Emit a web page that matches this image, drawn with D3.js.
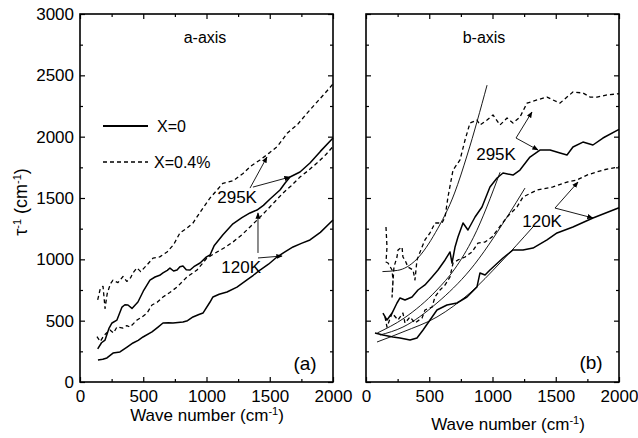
<!DOCTYPE html>
<html>
<head>
<meta charset="utf-8">
<script src="https://cdn.jsdelivr.net/npm/d3@7"></script>
<style>
body { margin: 0; background: #fff; }
text { font-family: Arial, "Liberation Sans", Helvetica, sans-serif; fill: #000; }
</style>
</head>
<body>
<div class="chart"></div>
<script>
// a-axis panel, [wave number, 1/tau]
const a295_x04 = [[140,670],[160,760],[182,780],[198,600],[215,720],[240,800],[261,830],[300,810],[340,860],[370,820],[400,850],[419,890],[450,930],[480,900],[530,955],[577,1010],[630,1020],[688,1060],[740,1120],[790,1215],[840,1250],[893,1296],[960,1400],[1028,1500],[1130,1620],[1210,1640],[1289,1700],[1350,1760],[1423,1810],[1500,1870],[1560,1920],[1640,2030],[1720,2100],[1794,2190],[1880,2290],[1950,2370],[2000,2430]]
const a295_x0 = [[140,270],[170,320],[198,342],[230,440],[253,481],[292,505],[332,611],[355,630],[379,628],[411,600],[458,652],[500,740],[553,831],[593,856],[630,870],[656,889],[690,910],[711,929],[740,905],[767,913],[790,940],[814,946],[840,915],[870,913],[900,940],[949,970],[1000,1020],[1028,1035],[1060,1110],[1130,1200],[1209,1290],[1280,1340],[1344,1378],[1399,1402],[1450,1440],[1500,1490],[1581,1565],[1620,1620],[1660,1671],[1739,1712],[1818,1785],[1900,1880],[2000,1990]]
const a120_x04 = [[134,370],[160,330],[190,380],[237,424],[265,400],[292,448],[340,440],[370,460],[395,448],[451,505],[490,530],[530,562],[569,628],[610,650],[656,693],[710,730],[767,774],[846,856],[925,913],[1004,1011],[1083,1060],[1150,1100],[1209,1141],[1280,1200],[1344,1264],[1410,1330],[1478,1402],[1540,1470],[1605,1541],[1670,1600],[1739,1671],[1800,1720],[1873,1785],[1940,1850],[2000,1920]]
const a120_x0 = [[142,179],[180,185],[213,196],[261,236],[316,245],[372,285],[419,318],[460,340],[498,367],[569,408],[617,448],[656,481],[700,483],[735,481],[814,489],[850,500],[893,530],[940,550],[972,562],[1028,652],[1051,693],[1100,715],[1162,734],[1241,774],[1320,832],[1370,870],[1423,913],[1490,960],[1557,1019],[1620,1060],[1684,1101],[1750,1130],[1818,1158],[1900,1220],[2000,1320]]

// b-axis panel
const b295_x04 = [[158,1264],[166,1100],[158,978],[174,970],[206,913],[213,832],[206,693],[221,937],[245,1019],[253,1076],[285,1100],[292,1019],[308,995],[332,937],[372,913],[387,832],[403,995],[443,1100],[466,1158],[506,1215],[545,1296],[601,1296],[625,1345],[648,1508],[688,1728],[743,1810],[783,1973],[822,2111],[877,2136],[901,2095],[957,2136],[1004,2177],[1059,2095],[1115,2152],[1162,2111],[1217,2160],[1273,2274],[1352,2299],[1431,2323],[1478,2299],[1534,2274],[1589,2323],[1636,2364],[1715,2356],[1771,2323],[1826,2323],[1905,2340],[2000,2350]]
const b295_x0 = [[134,562],[166,505],[206,562],[245,644],[269,685],[308,668],[364,693],[411,750],[466,791],[522,856],[569,913],[625,995],[664,1060],[680,970],[704,1101],[727,1182],[767,1296],[806,1239],[862,1345],[917,1427],[980,1590],[1036,1663],[1083,1704],[1162,1687],[1217,1728],[1296,1834],[1375,1891],[1455,1891],[1534,1867],[1589,1851],[1636,1916],[1715,1956],[1794,1932],[1873,1989],[2000,2060]]
const b120_x04 = [[150,530],[166,448],[206,562],[253,505],[292,562],[308,481],[348,530],[387,481],[443,522],[466,587],[522,611],[545,693],[585,750],[625,791],[664,856],[688,970],[727,995],[783,1019],[838,1060],[885,1133],[941,1141],[996,1182],[1115,1345],[1194,1427],[1241,1508],[1352,1565],[1478,1590],[1589,1630],[1668,1647],[1747,1687],[1873,1728],[2000,1755]]
const b120_x0 = [[71,399],[134,383],[213,367],[269,359],[348,342],[403,359],[451,424],[506,505],[561,587],[640,628],[719,644],[798,693],[877,774],[901,889],[941,872],[980,913],[1083,1011],[1162,1076],[1241,1076],[1320,1092],[1431,1158],[1510,1215],[1636,1264],[1794,1337],[2000,1420]]

// fitted curves (thin lines) in b panel
const b295_x04fit = [[130,900],[250,910],[400,1000],[550,1220],[700,1540],[800,1850],[957,2420]]
const b295_x0fit = [[90,400],[300,520],[560,750],[700,920],[850,1180],[1060,1710]]
const b120_x04fit = [[110,383],[292,448],[561,644],[822,913],[1115,1345],[1257,1581]]
const b120_x0fit = [[87,326],[292,408],[561,530],[822,726],[1059,970],[1320,1264]]

const xTicks = [0, 500, 1000, 1500, 2000]
const yTicks = [0, 500, 1000, 1500, 2000, 2500, 3000]

// temperature labels and their arrows [from, to]
const aNotes = [
  {text: '295K', x: 1085, y: 1459, arrows: [[[1344,1581],[1478,1834]], [[1367,1589],[1660,1671]]]},
  {text: '120K', x: 1117, y: 889, arrows: [[[1407,1052],[1407,1378]], [[1407,1011],[1597,1027]]]}
]
const bNotes = [
  {text: '295K', x: 871, y: 1810, arrows: [[[1186,1989],[1312,2201]], [[1186,1989],[1360,1891]]]},
  {text: '120K', x: 1235, y: 1264, arrows: [[[1494,1418],[1676,1630]], [[1494,1418],[1794,1337]]]}
]

let width = 638
let height = 438

let svg = d3.select('.chart').append('svg')
.attr('width', width)
.attr('height', height)

svg.append('defs').append('marker')
.attr('id', 'head')
.attr('viewBox', '0 0 10 10')
.attr('refX', 9)
.attr('refY', 5)
.attr('markerWidth', 7)
.attr('markerHeight', 7)
.attr('orient', 'auto')
.append('path')
.attr('d', 'M0,1 L10,5 L0,9 z')
.attr('fill', '#000')

let y = d3.scaleLinear().domain([0, 3000]).range([382, 14])
let xA = d3.scaleLinear().domain([0, 2000]).range([80, 333])
let xB = d3.scaleLinear().domain([0, 2000]).range([366, 619])

const minor = v => d3.range(v[0] + 250, v[v.length - 1], 500)

const drawPanel = (x, yLabels) => {
  let g = svg.append('g')
  let [x0, x1] = x.range()
  let [y0, y1] = y.range()

  // inward ticks on all four sides
  g.append('g').attr('transform', `translate(0,${y0})`)
  .call(d3.axisBottom(x).tickValues(xTicks).tickSize(-5).tickPadding(8).tickFormat(d3.format('d')))
  g.append('g').attr('transform', `translate(0,${y0})`)
  .call(d3.axisBottom(x).tickValues(minor(xTicks)).tickSize(-3).tickFormat(''))
  g.append('g').attr('transform', `translate(0,${y1})`)
  .call(d3.axisTop(x).tickValues(xTicks).tickSize(-5).tickFormat(''))
  g.append('g').attr('transform', `translate(0,${y1})`)
  .call(d3.axisTop(x).tickValues(minor(xTicks)).tickSize(-3).tickFormat(''))
  g.append('g').attr('transform', `translate(${x0},0)`)
  .call(d3.axisLeft(y).tickValues(yTicks).tickSize(-5).tickPadding(6).tickFormat(yLabels ? d3.format('d') : ''))
  g.append('g').attr('transform', `translate(${x0},0)`)
  .call(d3.axisLeft(y).tickValues(minor(yTicks)).tickSize(-3).tickFormat(''))
  g.append('g').attr('transform', `translate(${x1},0)`)
  .call(d3.axisRight(y).tickValues(yTicks).tickSize(-5).tickFormat(''))
  g.append('g').attr('transform', `translate(${x1},0)`)
  .call(d3.axisRight(y).tickValues(minor(yTicks)).tickSize(-3).tickFormat(''))

  g.selectAll('.domain').remove()
  g.selectAll('.tick line').attr('stroke', '#000').attr('stroke-width', 1.2)
  g.selectAll('.tick text').style('font-size', '17px').attr('fill', '#000')

  g.append('rect')
  .attr('x', x0).attr('y', y1)
  .attr('width', x1 - x0).attr('height', y0 - y1)
  .attr('fill', 'none')
  .attr('stroke', '#000')
  .attr('stroke-width', 1.6)

  return g
}

const drawCurve = (g, x, data, style) => {
  let line = d3.line()
  .x(d => x(d[0]))
  .y(d => y(d[1]))
  .curve(style === 'fit' ? d3.curveMonotoneX : d3.curveLinear)

  g.append('path')
  .datum(data)
  .attr('d', line)
  .attr('fill', 'none')
  .attr('stroke', '#000')
  .attr('stroke-width', style === 'fit' ? 0.9 : style === 'dash' ? 1.3 : 1.5)
  .attr('stroke-dasharray', style === 'dash' ? '4,3' : null)
  .attr('stroke-linejoin', 'round')
}

const drawNotes = (g, x, notes) => {
  notes.map(n => {
    g.append('text')
    .attr('x', x(n.x))
    .attr('y', y(n.y))
    .style('font-size', '17px')
    .text(n.text)

    n.arrows.map(a => {
      g.append('line')
      .attr('x1', x(a[0][0])).attr('y1', y(a[0][1]))
      .attr('x2', x(a[1][0])).attr('y2', y(a[1][1]))
      .attr('stroke', '#000')
      .attr('stroke-width', 0.9)
      .attr('marker-end', 'url(#head)')
    })
  })
}

// panel (a)
let pa = drawPanel(xA, true)
drawCurve(pa, xA, a295_x04, 'dash')
drawCurve(pa, xA, a120_x04, 'dash')
drawCurve(pa, xA, a295_x0, 'solid')
drawCurve(pa, xA, a120_x0, 'solid')
drawNotes(pa, xA, aNotes)

// panel (b)
let pb = drawPanel(xB, false)
drawCurve(pb, xB, b295_x04, 'dash')
drawCurve(pb, xB, b120_x04, 'dash')
drawCurve(pb, xB, b295_x0, 'solid')
drawCurve(pb, xB, b120_x0, 'solid')
drawCurve(pb, xB, b295_x04fit, 'fit')
drawCurve(pb, xB, b295_x0fit, 'fit')
drawCurve(pb, xB, b120_x04fit, 'fit')
drawCurve(pb, xB, b120_x0fit, 'fit')
drawNotes(pb, xB, bNotes)

// titles and panel letters
svg.append('text').attr('x', 205).attr('y', 43).attr('text-anchor', 'middle').style('font-size', '16px').text('a-axis')
svg.append('text').attr('x', 484).attr('y', 43).attr('text-anchor', 'middle').style('font-size', '16px').text('b-axis')
svg.append('text').attr('x', 305).attr('y', 370).attr('text-anchor', 'middle').style('font-size', '19px').text('(a)')
svg.append('text').attr('x', 591).attr('y', 369).attr('text-anchor', 'middle').style('font-size', '19px').text('(b)')

// legend
let legend = [{label: 'X=0', dash: null, ty: 126, tx: 157}, {label: 'X=0.4%', dash: '4,3', ty: 162, tx: 154}]
legend.map(l => {
  svg.append('line')
  .attr('x1', 103).attr('x2', 148)
  .attr('y1', l.ty).attr('y2', l.ty)
  .attr('stroke', '#000')
  .attr('stroke-width', l.dash ? 1.3 : 1.8)
  .attr('stroke-dasharray', l.dash)
  svg.append('text')
  .attr('x', l.tx).attr('y', l.ty + 6)
  .style('font-size', '16px')
  .text(l.label)
})

// axis titles
const xTitle = (cx, cy) => {
  let t = svg.append('text')
  .attr('x', cx).attr('y', cy)
  .attr('text-anchor', 'middle')
  .style('font-size', '17px')
  t.append('tspan').text('Wave number (cm')
  t.append('tspan').attr('baseline-shift', 'super').style('font-size', '11px').text('-1')
  t.append('tspan').text(')')
}
xTitle(207, 421)
xTitle(508, 430)

let yt = svg.append('text')
.attr('transform', 'translate(27,202) rotate(-90)')
.attr('text-anchor', 'middle')
.style('font-size', '18px')
yt.append('tspan').text('τ')
yt.append('tspan').attr('baseline-shift', 'super').style('font-size', '11px').text('-1')
yt.append('tspan').text(' (cm')
yt.append('tspan').attr('baseline-shift', 'super').style('font-size', '11px').text('-1')
yt.append('tspan').text(')')
</script>
</body>
</html>
